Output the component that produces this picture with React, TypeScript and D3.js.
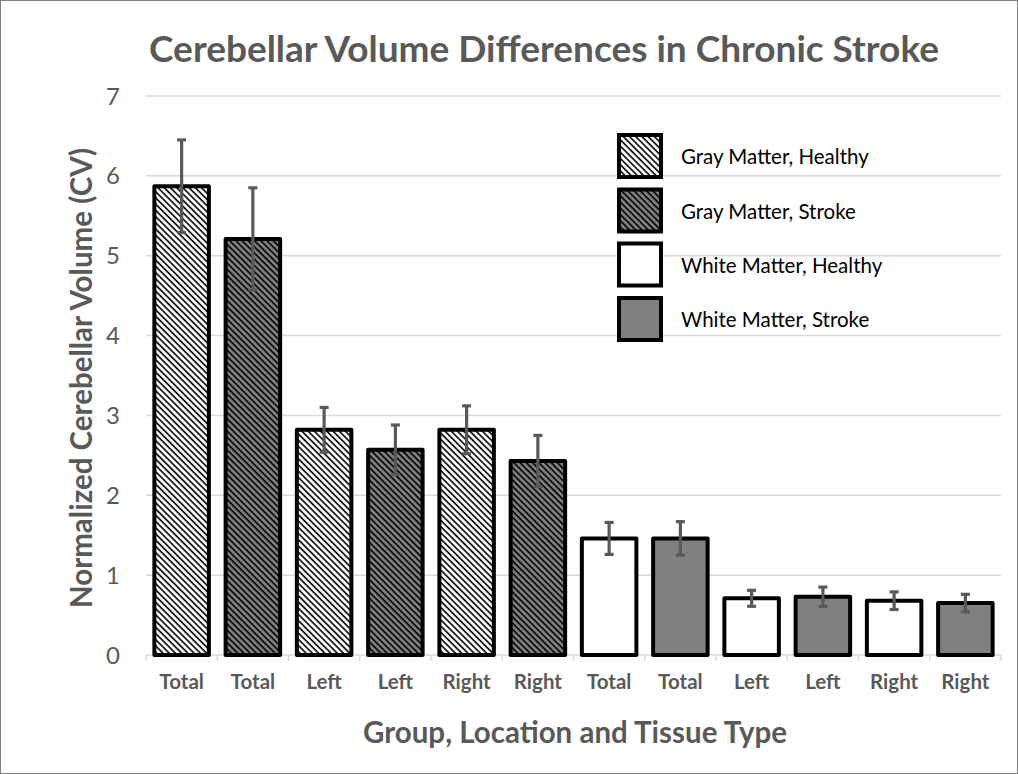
import React from "react";
import * as d3 from "d3";

const categories = ["Total", "Total", "Left", "Left", "Right", "Right", "Total", "Total", "Left", "Left", "Right", "Right"];
const seriesIndex = [0, 1, 0, 1, 0, 1, 2, 3, 2, 3, 2, 3];
const values = [5.87, 5.21, 2.82, 2.57, 2.82, 2.43, 1.46, 1.46, 0.71, 0.73, 0.68, 0.65];
const errors = [0.58, 0.64, 0.28, 0.31, 0.30, 0.32, 0.20, 0.21, 0.10, 0.12, 0.11, 0.11];
const seriesNames = ["Gray Matter, Healthy", "Gray Matter, Stroke", "White Matter, Healthy", "White Matter, Stroke"];
const yTicks = [0, 1, 2, 3, 4, 5, 6, 7];

const W = 1018;
const H = 774;
const FONT = "Lato, 'Open Sans', sans-serif";
const TEXT_GRAY = "#595959";
const fills = ["url(#hatchWhite)", "url(#hatchGray)", "#ffffff", "#808080"];

export default function App() {
  const x = d3
    .scaleBand<number>()
    .domain(d3.range(categories.length))
    .range([146, 1001])
    .paddingInner(0.235)
    .paddingOuter(0.1175);
  const y = d3.scaleLinear().domain([0, 7]).range([655, 96]);
  const step = x.step();
  const boundaries = d3.range(categories.length + 1).map((i) => 146 + i * step);

  const legendY = [156, 210.5, 264.5, 319];

  return (
    <svg width={W} height={H} style={{ position: "absolute", left: 0, top: 0, background: "#fff" }}>
      <defs>
        <pattern id="hatchWhite" patternUnits="userSpaceOnUse" width={4.4} height={10} patternTransform="rotate(-45)">
          <rect width={4.4} height={10} fill="#ffffff" />
          <line x1={1} y1={0} x2={1} y2={10} stroke="#000" strokeWidth={1.6} />
        </pattern>
        <pattern id="hatchGray" patternUnits="userSpaceOnUse" width={4.4} height={10} patternTransform="rotate(-45)">
          <rect width={4.4} height={10} fill="#808080" />
          <line x1={1} y1={0} x2={1} y2={10} stroke="#000" strokeWidth={1.6} />
        </pattern>
      </defs>
      <rect x={0.5} y={0.5} width={W - 1} height={H - 1} fill="#fff" stroke="#7f7f7f" strokeWidth={1} />

      {/* title */}
      <text x={544} y={62} textAnchor="middle" fontFamily={FONT} fontWeight={700} fontSize={37} fill={TEXT_GRAY}>
        Cerebellar Volume Differences in Chronic Stroke
      </text>

      {/* gridlines */}
      {yTicks.filter((t) => t > 0).map((t) => (
        <line key={t} x1={146} x2={1001} y1={y(t)} y2={y(t)} stroke="#d9d9d9" strokeWidth={1.5} />
      ))}
      {/* y tick labels */}
      {yTicks.map((t) => (
        <text key={t} x={120} y={y(t)} dy="0.36em" textAnchor="end" fontFamily={FONT} fontSize={24} fill={TEXT_GRAY}>
          {t}
        </text>
      ))}

      {/* x axis */}
      <line x1={146} x2={1001} y1={y(0)} y2={y(0)} stroke="#d9d9d9" strokeWidth={1.5} />
      {boundaries.map((b, i) => (
        <line key={i} x1={b} x2={b} y1={y(0)} y2={y(0) + 6} stroke="#d9d9d9" strokeWidth={1.5} />
      ))}

      {/* bars */}
      {values.map((v, i) => (
        <rect
          key={i}
          x={x(i)!}
          y={y(v)}
          width={x.bandwidth()}
          height={y(0) - y(v)}
          fill={fills[seriesIndex[i]]}
          stroke="#000"
          strokeWidth={4}
          strokeLinejoin="round"
        />
      ))}

      {/* error bars */}
      {values.map((v, i) => {
        const cx = x(i)! + x.bandwidth() / 2;
        const top = y(v + errors[i]);
        const bot = y(v - errors[i]);
        return (
          <g key={i} stroke="#595959" strokeWidth={3.2}>
            <line x1={cx} x2={cx} y1={top} y2={bot} />
            <line x1={cx - 4.5} x2={cx + 4.5} y1={top} y2={top} />
            <line x1={cx - 4.5} x2={cx + 4.5} y1={bot} y2={bot} />
          </g>
        );
      })}

      {/* x tick labels */}
      {categories.map((c, i) => (
        <text
          key={i}
          x={x(i)! + x.bandwidth() / 2}
          y={689}
          textAnchor="middle"
          fontFamily={FONT}
          fontWeight={700}
          fontSize={20.5}
          fill={TEXT_GRAY}
        >
          {c}
        </text>
      ))}

      {/* axis titles */}
      <text x={575} y={743} textAnchor="middle" fontFamily={FONT} fontWeight={700} fontSize={29.5} fill={TEXT_GRAY}>
        Group, Location and Tissue Type
      </text>
      <text
        transform="translate(81,378) rotate(-90)"
        textAnchor="middle"
        dy="0.36em"
        fontFamily={FONT}
        fontWeight={700}
        fontSize={29.5}
        fill={TEXT_GRAY}
      >
        Normalized Cerebellar Volume (CV)
      </text>

      {/* legend */}
      {seriesNames.map((name, i) => (
        <g key={name}>
          <rect x={619} y={legendY[i] - 21} width={42} height={42} fill={fills[i]} stroke="#000" strokeWidth={4} />
          <text x={681} y={legendY[i] + 1} dy="0.36em" fontFamily={FONT} fontSize={20.5} fill="#000">
            {name}
          </text>
        </g>
      ))}
    </svg>
  );
}
